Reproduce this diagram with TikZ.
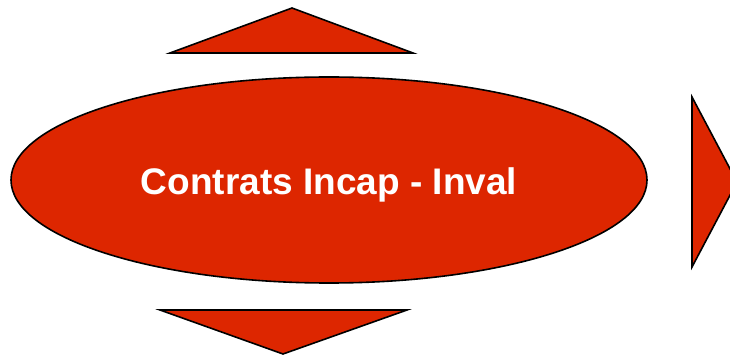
\documentclass[tikz,border=0pt]{standalone}
\usepackage{fontspec}
\setmainfont{Liberation Sans}
\definecolor{shapered}{HTML}{DD2600}
\begin{document}
\begin{tikzpicture}[x=1pt,y=-1pt,
  redshape/.style={fill=shapered, draw=black, line width=1.6pt, line join=miter},
  labeltext/.style={text=white, font=\bfseries\fontsize{37}{42}\selectfont}]
\useasboundingbox (0,0) rectangle (730,355);
\clip (0,0) rectangle (730,355);
% central ellipse with its label
\draw[redshape] (329,180) ellipse [x radius=318, y radius=103];
\node[labeltext] (label) at (329,185) {Contrats Incap - Inval};
% arrow heads around the ellipse
\draw[redshape] (292,8) -- (413,53) -- (170,53) -- cycle;
\draw[redshape] (160,310) -- (407,310) -- (283,354) -- cycle;
\draw[redshape] (692,97) -- (737,182) -- (692,267) -- cycle;
\end{tikzpicture}
\end{document}
